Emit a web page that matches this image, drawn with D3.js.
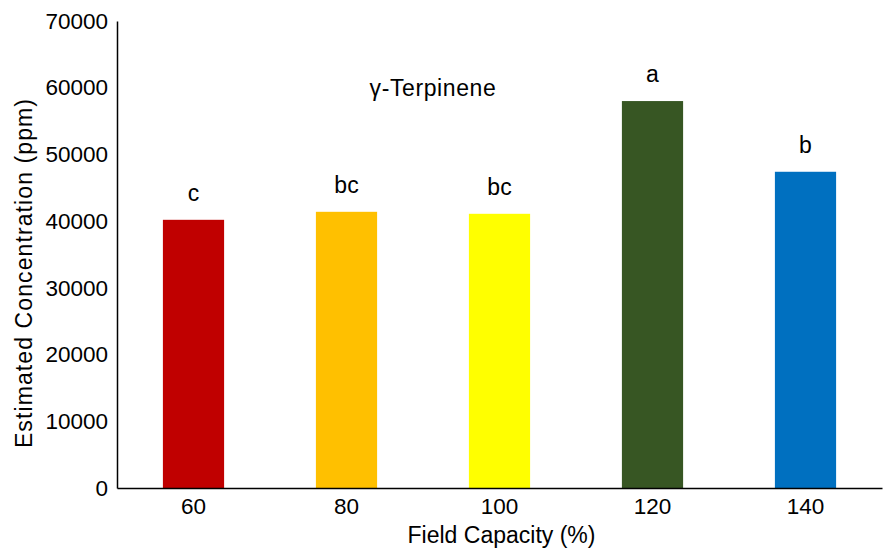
<!DOCTYPE html>
<html><head><meta charset="utf-8">
<script src="https://cdn.jsdelivr.net/npm/d3@7"></script>
<style>body{margin:0;background:#fff}svg{display:block}text{font-family:"Liberation Sans",Arial,sans-serif;fill:#000}</style>
</head><body><svg id="c" width="883" height="553"></svg>
<script>
const categories = ["60","80","100","120","140"];
const values = [40200, 41400, 41100, 58000, 47400];
const letters = ["c","bc","bc","a","b"];
const colors = ["#c00000","#ffc000","#ffff00","#375623","#0070c0"];
const yTicks = [0,10000,20000,30000,40000,50000,60000,70000];
const title = "γ-Terpinene";
const xTitle = "Field Capacity (%)";
const yTitle = "Estimated Concentration (ppm)";

const svg = d3.select("#c");
const m = {l:117, r:882, t:21, b:488};
const x = d3.scaleBand().domain(categories).range([m.l, m.r]).paddingInner(0.6).paddingOuter(0.3);
const y = d3.scaleLinear().domain([0,70000]).range([m.b, m.t]);

svg.selectAll("rect.bar").data(values).join("rect").attr("class","bar")
  .attr("x",(d,i)=>x(categories[i])).attr("width",x.bandwidth())
  .attr("y",d=>y(d)).attr("height",d=>y(0)-y(d)).attr("fill",(d,i)=>colors[i]);

const ya = svg.append("g").attr("transform",`translate(${m.l},0)`)
  .call(d3.axisLeft(y).tickValues(yTicks).tickSize(0).tickPadding(9).tickFormat(d3.format("d")));
ya.select(".domain").attr("stroke","#000").attr("stroke-width",1.5);
ya.selectAll("text").style("font-size","22.5px");

const xa = svg.append("g").attr("transform",`translate(0,${m.b})`)
  .call(d3.axisBottom(x).tickSize(0).tickPadding(10));
xa.select(".domain").attr("stroke","#000").attr("stroke-width",1.5);
xa.selectAll("text").style("font-size","22.5px");

svg.selectAll("text.lbl").data(values).join("text").attr("class","lbl")
  .attr("x",(d,i)=>x(categories[i])+x.bandwidth()/2).attr("y",d=>y(d)-19)
  .attr("text-anchor","middle").style("font-size","23px").text((d,i)=>letters[i]);

svg.append("text").attr("x",433).attr("y",96).attr("text-anchor","middle").style("font-size","23px").style("letter-spacing","0.6px").text(title);
svg.append("text").attr("x",(m.l+m.r)/2+2).attr("y",543).attr("text-anchor","middle").style("font-size","23px").text(xTitle);
svg.append("text").attr("transform",`translate(32,273) rotate(-90)`).attr("text-anchor","middle").style("font-size","23px").style("letter-spacing","1.1px").text(yTitle);
</script></body></html>
